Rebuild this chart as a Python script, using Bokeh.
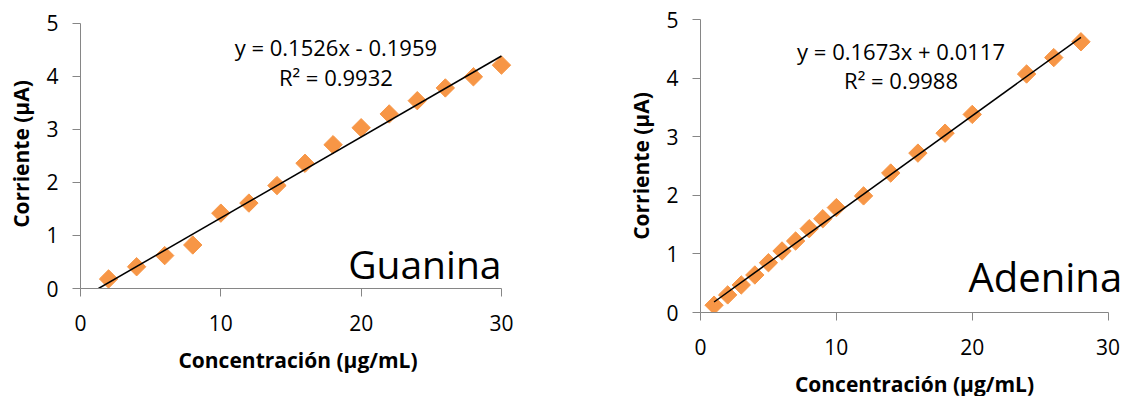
from bokeh.plotting import figure
from bokeh.layouts import row
from bokeh.models import Range1d, FixedTicker, Label, ColumnDataSource
from bokeh.embed import file_html
from bokeh.resources import INLINE
import math

# ---- data ----
gua_x = [2, 4, 6, 8, 10, 12, 14, 16, 18, 20, 22, 24, 26, 28, 30]
gua_y = [0.18, 0.41, 0.62, 0.82, 1.42, 1.61, 1.94, 2.36, 2.71, 3.03, 3.29, 3.54, 3.78, 3.99, 4.21]
gua_slope, gua_icpt = 0.1526, -0.1959
gua_eq = ["y = 0.1526x - 0.1959", "R² = 0.9932"]

ade_x = [1, 2, 3, 4, 5, 6, 7, 8, 9, 10, 12, 14, 16, 18, 20, 24, 26, 28]
ade_y = [0.125, 0.30, 0.47, 0.64, 0.85, 1.05, 1.22, 1.43, 1.60, 1.79, 1.99, 2.38, 2.72, 3.06, 3.38, 4.07, 4.35, 4.62]
ade_slope, ade_icpt = 0.1673, 0.0117
ade_eq = ["y = 0.1673x + 0.0117", "R² = 0.9988"]

x_ticks = [0, 10, 20, 30]
y_ticks = [0, 1, 2, 3, 4, 5]
x_label = "Concentración (µg/mL)"
y_label = "Corriente (µA)"

FONT = "Open Sans"
ORANGE = "#F79646"
AXIS = "#868686"


def make(xs, ys, slope, icpt, eq, name, x_end, y_end, fw, fh,
         bl, br, bt, bb, eq_x, eq_y, eq_dy, name_x, name_y, name_size,
         line_x0, line_x1, eq_size):
    p = figure(frame_width=fw, frame_height=fh,
               x_range=Range1d(0, x_end), y_range=Range1d(0, y_end),
               output_backend="svg", toolbar_location=None,
               min_border_left=bl, min_border_top=bt, min_border_bottom=bb,
               min_border_right=br)
    p.outline_line_color = None
    p.xgrid.visible = False
    p.ygrid.visible = False
    p.background_fill_color = "white"
    p.border_fill_color = "white"

    for ax, ticks in ((p.xaxis[0], x_ticks), (p.yaxis[0], y_ticks)):
        ax.ticker = FixedTicker(ticks=ticks)
        ax.minor_tick_line_color = None
        ax.axis_line_color = AXIS
        ax.major_tick_line_color = AXIS
        ax.major_tick_out = 8
        ax.major_tick_in = 0
        ax.major_label_text_font = FONT
        ax.major_label_text_font_size = "21px"
        ax.major_label_text_color = "black"
        ax.axis_label_text_font = FONT
        ax.axis_label_text_font_style = "bold"
        ax.axis_label_text_font_size = "21px"
        ax.axis_label_text_color = "black"
    p.xaxis[0].bounds = (0, 30)
    p.yaxis[0].bounds = (0, 5)
    p.xaxis[0].axis_label = x_label
    p.yaxis[0].axis_label = y_label
    p.xaxis[0].major_label_standoff = 18
    p.xaxis[0].axis_label_standoff = 12
    p.yaxis[0].major_label_standoff = 14
    p.yaxis[0].axis_label_standoff = 8

    src = ColumnDataSource(dict(x=xs, y=ys))
    p.scatter("x", "y", source=src, marker="square", size=13, angle=math.pi / 4,
              fill_color=ORANGE, line_color=ORANGE)

    lx = [line_x0, line_x1]
    ly = [slope * v + icpt for v in lx]
    p.line(lx, ly, line_color="black", line_width=1.5)

    for i, t in enumerate(eq):
        p.add_layout(Label(x=eq_x, y=eq_y - i * eq_dy, text=t, text_align="center",
                           text_baseline="alphabetic", text_font=FONT,
                           text_font_size=eq_size, text_color="black"))
    p.add_layout(Label(x=name_x, y=name_y, text=name, text_align="right",
                       text_baseline="alphabetic", text_font=FONT,
                       text_font_size=name_size, text_color="black"))
    return p


left = make(gua_x, gua_y, gua_slope, gua_icpt, gua_eq, "Guanina",
            31, 5.07, 435, 269, 80, 85, 19, 108,
            18.2, 4.56, 0.57, 30, 0.47, "39px", -gua_icpt / gua_slope, 30, "22px")
right = make(ade_x, ade_y, ade_slope, ade_icpt, ade_eq, "Adenina",
             31.5, 5.0, 428, 293, 100, 2, 19, 84,
             14.76, 4.47, 0.51, 31.03, 0.61, "40px", 1, 28, "22px")

layout = row(left, right)
open("out.html", "w").write(file_html(layout, INLINE))
